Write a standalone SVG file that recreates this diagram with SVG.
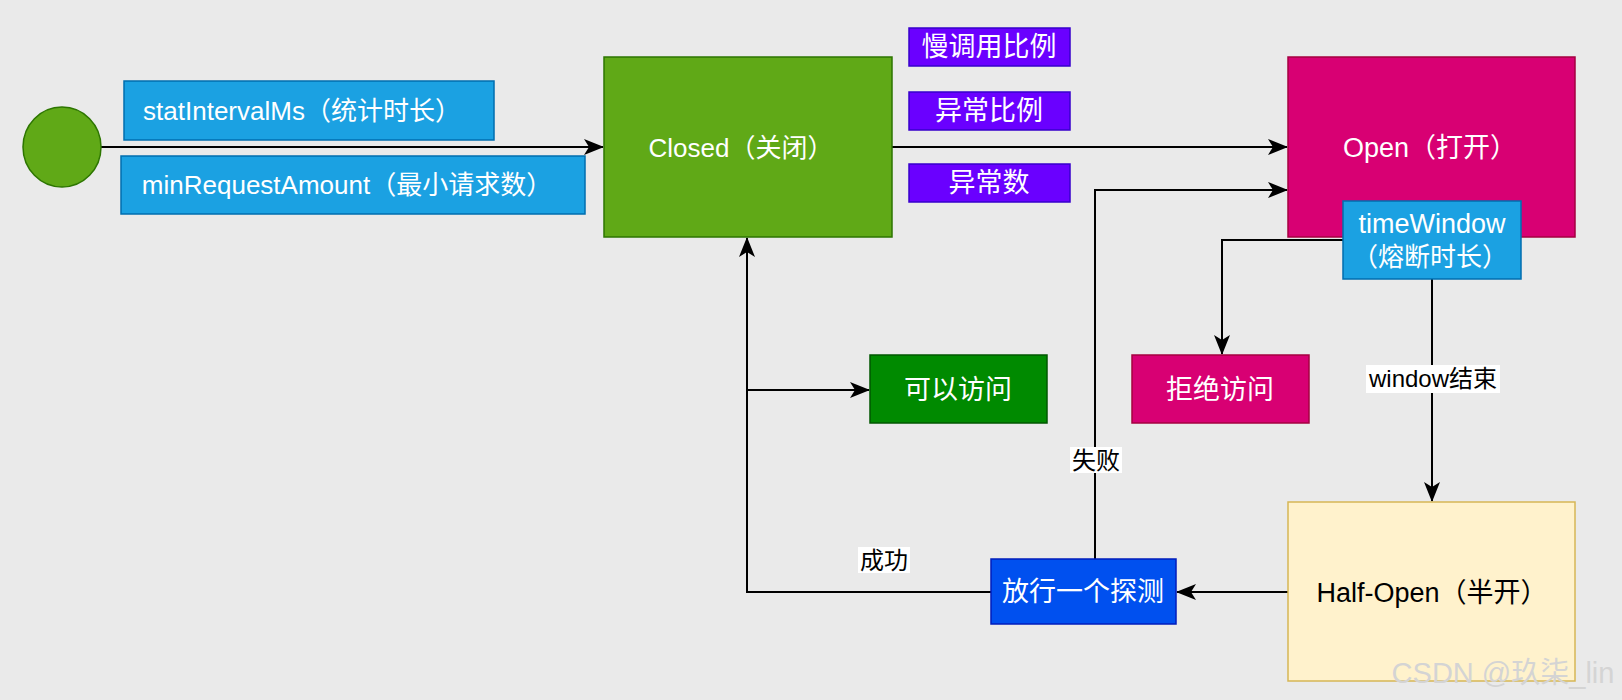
<svg xmlns="http://www.w3.org/2000/svg" width="1622" height="700" viewBox="0 0 1622 700">
<style>
text{font-family:"Liberation Sans","Noto Sans CJK SC",sans-serif;text-anchor:middle;dominant-baseline:central}
.w{fill:#ffffff;font-size:26px}
.c{fill:#ffffff;font-size:27px}
.k{fill:#000000;font-size:27px}
.lbl{fill:#000000;font-size:24px}
.edge{fill:none;stroke:#000000;stroke-width:2}
.blue{fill:#1BA1E2;stroke:#006EAF;stroke-width:1.5}
.purple{fill:#6A00FF;stroke:#3700CC;stroke-width:1.5}
.green{fill:#60A917;stroke:#2D7600;stroke-width:1.5}
.pink{fill:#D80073;stroke:#A50040;stroke-width:1.5}
</style>
<defs>
<marker id="arr" viewBox="0 0 20 16" refX="19" refY="8" markerWidth="20" markerHeight="16" markerUnits="userSpaceOnUse" orient="auto">
<path d="M0,0 L20,8 L0,16 L5,8 Z" fill="#000000"/>
</marker>
</defs>
<rect x="0" y="0" width="1622" height="700" fill="#EAEAEA"/>
<g id="connectors">
<path class="edge" d="M101,147 L603,147" marker-end="url(#arr)"/>
<path class="edge" d="M892,147 L1287,147" marker-end="url(#arr)"/>
<path class="edge" d="M991,592 L747,592 L747,238" marker-end="url(#arr)"/>
<path class="edge" d="M747,390 L869,390" marker-end="url(#arr)"/>
<path class="edge" d="M1095,559 L1095,190 L1287,190" marker-end="url(#arr)"/>
<path class="edge" d="M1343,240 L1222,240 L1222,354" marker-end="url(#arr)"/>
<path class="edge" d="M1432,279 L1432,501" marker-end="url(#arr)"/>
<path class="edge" d="M1288,592 L1177,592" marker-end="url(#arr)"/>
<g id="label-success"><rect x="858" y="547" width="52" height="26" fill="#ffffff"/><text class="lbl" x="884" y="560">成功</text></g>
<g id="label-fail"><rect x="1070" y="447" width="52" height="26" fill="#ffffff"/><text class="lbl" x="1096" y="460">失败</text></g>
<g id="label-window"><rect x="1366" y="365" width="134" height="28" fill="#ffffff"/><text class="lbl" x="1433" y="378">window结束</text></g>
</g>
<g id="start"><ellipse cx="62" cy="147" rx="39" ry="40" class="green"/></g>
<g id="statInterval"><rect x="124" y="81" width="370" height="59" class="blue"/><text class="w" x="302" y="111">statIntervalMs（统计时长）</text></g>
<g id="minRequest"><rect x="121" y="156" width="464" height="58" class="blue"/><text class="w" x="347" y="185">minRequestAmount（最小请求数）</text></g>
<g id="closed"><rect x="604" y="57" width="288" height="180" class="green"/><text class="w" x="741" y="148">Closed（关闭）</text></g>
<g id="slowRatio"><rect x="909" y="28" width="161" height="38" class="purple"/><text class="c" x="989" y="47">慢调用比例</text></g>
<g id="errRatio"><rect x="909" y="92" width="161" height="38" class="purple"/><text class="c" x="989" y="111">异常比例</text></g>
<g id="errCount"><rect x="909" y="164" width="161" height="38" class="purple"/><text class="c" x="989" y="183">异常数</text></g>
<g id="open"><rect x="1288" y="57" width="287" height="180" class="pink"/><text class="k" x="1430" y="148" style="fill:#ffffff">Open（打开）</text></g>
<g id="timeWindow"><rect x="1343" y="201" width="178" height="78" class="blue"/><text class="c" x="1432" y="224">timeWindow</text><text class="w" x="1430" y="257">（熔断时长）</text></g>
<g id="allow"><rect x="870" y="355" width="177" height="68" fill="#008A00" stroke="#005700" stroke-width="1.5"/><text class="c" x="958" y="390">可以访问</text></g>
<g id="reject"><rect x="1132" y="355" width="177" height="68" class="pink"/><text class="c" x="1220" y="390">拒绝访问</text></g>
<g id="probe"><rect x="991" y="559" width="185" height="65" fill="#0050EF" stroke="#001DBC" stroke-width="1.5"/><text class="c" x="1083" y="592">放行一个探测</text></g>
<g id="halfOpen"><rect x="1288" y="502" width="287" height="179" fill="#FFF2CC" stroke="#D6B656" stroke-width="1.5"/><text class="k" x="1432" y="593">Half-Open（半开）</text></g>
<text x="1503" y="673" style="fill:#D4D4D4;font-size:29px">CSDN @玖柒_lin</text>
</svg>
